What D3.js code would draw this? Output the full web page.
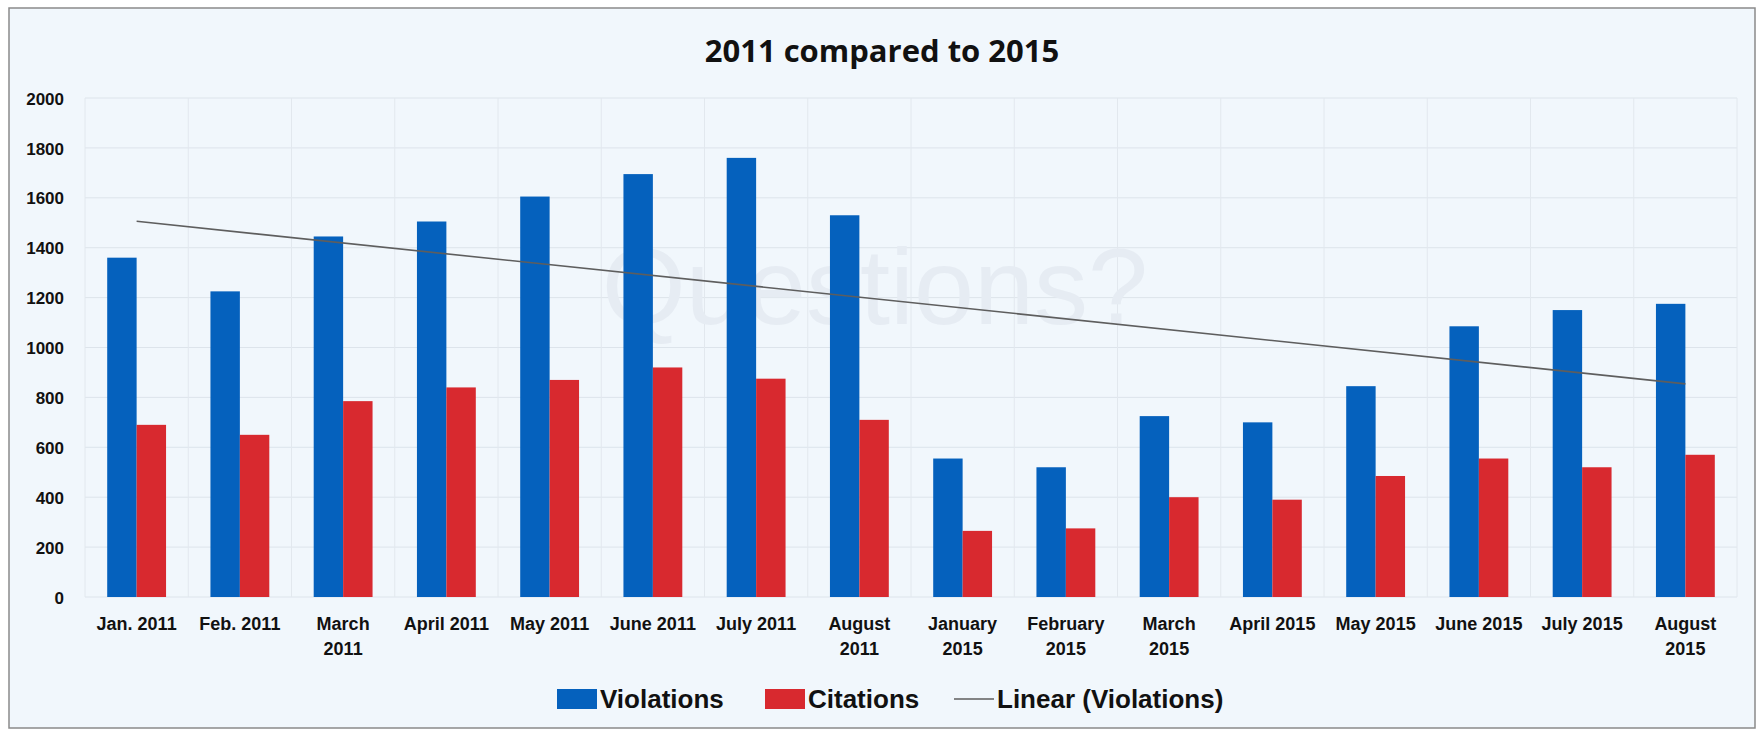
<!DOCTYPE html>
<html>
<head>
<meta charset="utf-8">
<script src="https://cdn.jsdelivr.net/npm/d3@7"></script>
<style>
  body { margin: 0; background: #fff; }
  svg text { font-family: "Liberation Sans Narrow", "Arial Narrow", "Liberation Sans", sans-serif; font-weight: bold; fill: #111; }
</style>
</head>
<body>
<div class="graph"></div>
<script>
var months = ["Jan. 2011", "Feb. 2011", "March 2011", "April 2011", "May 2011", "June 2011", "July 2011", "August 2011",
              "January 2015", "February 2015", "March 2015", "April 2015", "May 2015", "June 2015", "July 2015", "August 2015"];
// how each tick label wraps in the original
var monthLines = [["Jan. 2011"], ["Feb. 2011"], ["March", "2011"], ["April 2011"], ["May 2011"], ["June 2011"], ["July 2011"], ["August", "2011"],
                  ["January", "2015"], ["February", "2015"], ["March", "2015"], ["April 2015"], ["May 2015"], ["June 2015"], ["July 2015"], ["August", "2015"]];
var violations = [1360, 1225, 1445, 1505, 1605, 1695, 1760, 1530, 555, 520, 725, 700, 845, 1085, 1150, 1175];
var citations  = [690, 650, 785, 840, 870, 920, 875, 710, 265, 275, 400, 390, 485, 555, 520, 570];
var yTicks = [0, 200, 400, 600, 800, 1000, 1200, 1400, 1600, 1800, 2000];
var seriesNames = ["Violations", "Citations"];

var W = 1764, H = 734;
var margin = {top: 98, right: 27, bottom: 137, left: 85},
    width = W - margin.left - margin.right,
    height = H - margin.top - margin.bottom;

var color = d3.scaleOrdinal().domain(seriesNames).range(["#0561bd", "#d8292f"]);

var x = d3.scaleBand().domain(months).range([0, width]).paddingInner(0.43).paddingOuter(0.215);
var x1 = d3.scaleBand().domain(seriesNames).range([0, x.bandwidth()]);
var y = d3.scaleLinear().domain([0, 2000]).range([height, 0]);

var svg = d3.select(".graph").append("svg")
    .attr("width", W)
    .attr("height", H);

svg.append("rect")
    .attr("x", 9).attr("y", 8)
    .attr("width", W - 18).attr("height", H - 14)
    .attr("fill", "#f1f7fc")
    .attr("stroke", "#8a8a8a")
    .attr("stroke-width", 1.5);

svg.append("text")
    .attr("x", W / 2)
    .attr("y", 62)
    .attr("text-anchor", "middle")
    .style("font-family", "Open Sans, Liberation Sans, sans-serif")
    .style("font-size", "31px")
    .text("2011 compared to 2015");

var g = svg.append("g")
    .attr("transform", "translate(" + margin.left + "," + margin.top + ")");

// gridlines
g.selectAll(".hgrid")
    .data(yTicks)
  .enter().append("line")
    .attr("x1", 0).attr("x2", width)
    .attr("y1", function(d) { return y(d); })
    .attr("y2", function(d) { return y(d); })
    .attr("stroke", "#dde4eb")
    .attr("stroke-width", 1);

var step = x.step();
g.selectAll(".vgrid")
    .data(d3.range(months.length + 1))
  .enter().append("line")
    .attr("x1", function(i) { return i * step; })
    .attr("x2", function(i) { return i * step; })
    .attr("y1", 0).attr("y2", height)
    .attr("stroke", "#e2e8ee")
    .attr("stroke-width", 1);

// faint watermark
g.append("text")
    .attr("x", 790)
    .attr("y", 226)
    .attr("text-anchor", "middle")
    .style("font-family", "Liberation Sans, sans-serif")
    .style("font-weight", "normal")
    .style("font-size", "108px")
    .style("fill", "#e6ecf3")
    .text("Questions?");

// y axis
var yAxis = d3.axisLeft(y).tickValues(yTicks).tickSize(0).tickPadding(0).tickFormat(d3.format("d"));
var ya = g.append("g")
    .attr("transform", "translate(-21,0)")
    .call(yAxis);
ya.select(".domain").remove();
ya.selectAll("text")
    .attr("dy", "0.36em")
    .style("font-size", "17px");

// bars
var groups = g.selectAll(".month")
    .data(months)
  .enter().append("g")
    .attr("class", "month")
    .attr("transform", function(d) { return "translate(" + x(d) + ",0)"; });

groups.selectAll("rect")
    .data(function(d, i) { return [{k: "Violations", v: violations[i]}, {k: "Citations", v: citations[i]}]; })
  .enter().append("rect")
    .attr("x", function(d) { return x1(d.k); })
    .attr("y", function(d) { return y(d.v); })
    .attr("width", x1.bandwidth())
    .attr("height", function(d) { return height - y(d.v); })
    .attr("fill", function(d) { return color(d.k); });

// linear trendline of violations
var n = violations.length,
    xs = d3.range(1, n + 1),
    mx = d3.mean(xs), my = d3.mean(violations);
var slope = d3.sum(xs, function(v, i) { return (v - mx) * (violations[i] - my); }) /
            d3.sum(xs, function(v) { return (v - mx) * (v - mx); });
var icpt = my - slope * mx;
var trend = [xs[0], xs[n - 1]].map(function(v) { return {m: months[v - 1], v: icpt + slope * v}; });

g.append("path")
    .datum(trend)
    .attr("fill", "none")
    .attr("stroke", "#5e5e5e")
    .attr("stroke-width", 1.6)
    .attr("d", d3.line()
      .x(function(d) { return x(d.m) + x.bandwidth() / 2; })
      .y(function(d) { return y(d.v); }));

// x labels
var xl = g.append("g").attr("transform", "translate(0," + height + ")");
xl.selectAll("text")
    .data(months)
  .enter().append("text")
    .attr("x", function(d) { return x(d) + x.bandwidth() / 2; })
    .attr("y", 33)
    .attr("text-anchor", "middle")
    .style("font-size", "18px")
    .each(function(d, i) {
      var t = d3.select(this);
      monthLines[i].forEach(function(line, j) {
        t.append("tspan")
          .attr("x", x(d) + x.bandwidth() / 2)
          .attr("dy", j === 0 ? 0 : 25)
          .text(line);
      });
    });

// legend
var legendItems = [
  {name: "Violations", type: "rect", x: 557, w: 40},
  {name: "Citations", type: "rect", x: 765, w: 40},
  {name: "Linear (Violations)", type: "line", x: 954, w: 40}
];
var legend = svg.selectAll(".legend")
    .data(legendItems)
  .enter().append("g")
    .attr("class", "legend")
    .attr("transform", function(d) { return "translate(" + d.x + ",699)"; });

legend.filter(function(d) { return d.type === "rect"; })
  .append("rect")
    .attr("x", 0).attr("y", -10)
    .attr("width", function(d) { return d.w; })
    .attr("height", 20)
    .attr("fill", function(d) { return color(d.name); });

legend.filter(function(d) { return d.type === "line"; })
  .append("line")
    .attr("x1", 0).attr("x2", function(d) { return d.w; })
    .attr("y1", 0).attr("y2", 0)
    .attr("stroke", "#5e5e5e")
    .attr("stroke-width", 1.6);

legend.append("text")
    .attr("x", function(d) { return d.w + 3; })
    .attr("y", 0)
    .attr("dy", "0.36em")
    .style("font-size", "26px")
    .text(function(d) { return d.name; });
</script>
</body>
</html>
